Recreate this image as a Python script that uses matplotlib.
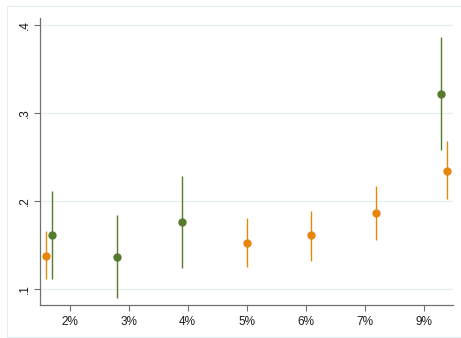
import matplotlib
matplotlib.use("Agg")
import matplotlib.pyplot as plt
from matplotlib.patches import Rectangle

plt.rcParams['font.family'] = ['Liberation Sans', 'DejaVu Sans']

# Categories on the x axis
categories = ["2%", "3%", "4%", "5%", "6%", "7%", "9%"]

# Estimates in plotting order: (category index, series, point, lower, upper)
cat_index = [0, 0, 1, 2, 3, 4, 5, 6, 6]
series = ["orange", "green", "green", "green", "orange", "orange", "orange", "green", "orange"]
estimate = [0.138, 0.161, 0.137, 0.176, 0.152, 0.161, 0.186, 0.322, 0.234]
lower = [0.111, 0.111, 0.090, 0.124, 0.125, 0.132, 0.156, 0.258, 0.202]
upper = [0.166, 0.212, 0.184, 0.228, 0.181, 0.189, 0.217, 0.386, 0.268]

yticks = [0.1, 0.2, 0.3, 0.4]
ytick_labels = [".1", ".2", ".3", ".4"]

colors = {"orange": "#e8860c", "green": "#567a2e"}

fig = plt.figure(figsize=(4.61, 3.38), dpi=100)
# light outer frame of the graph region
fig.patches.append(Rectangle((7 / 461, 1 - 337 / 338), 1.0, (337 - 6) / 338,
                             transform=fig.transFigure, fill=False,
                             edgecolor="#e3edf0", linewidth=0.8))

ax = fig.add_axes([40 / 461, 1 - 305 / 338, (453 - 40) / 461, (305 - 18) / 338])

n = len(estimate)
for k in range(n):
    # points are spread evenly around their category centre
    x = cat_index[k] + 1 + (k - (n - 1) / 2) * 0.1
    c = colors[series[k]]
    ax.plot([x, x], [lower[k], upper[k]], color=c, linewidth=1.0, solid_capstyle="butt", zorder=2)
    ax.plot(x, estimate[k], "o", color=c, markersize=6, markeredgewidth=0, zorder=3)

ax.set_xlim(0.5, 7.5)
ax.set_ylim(0.082, 0.408)
ax.set_xticks(range(1, len(categories) + 1))
ax.set_xticklabels(categories, fontsize=8.5)
ax.set_yticks(yticks)
ax.set_yticklabels(ytick_labels, fontsize=8.5, rotation=90, va="center")

ax.grid(axis="y", color="#e4eef0", linewidth=0.9, zorder=0)
ax.set_axisbelow(True)
for side in ("top", "right"):
    ax.spines[side].set_visible(False)
for side in ("left", "bottom"):
    ax.spines[side].set_color("#707070")
    ax.spines[side].set_linewidth(0.9)
ax.tick_params(axis="both", direction="out", length=4, width=0.8, color="#707070",
               labelcolor="#1a1a1a")
ax.tick_params(axis="y", pad=2.5)
ax.tick_params(axis="x", pad=4)

fig.savefig("out.png", dpi=100)
